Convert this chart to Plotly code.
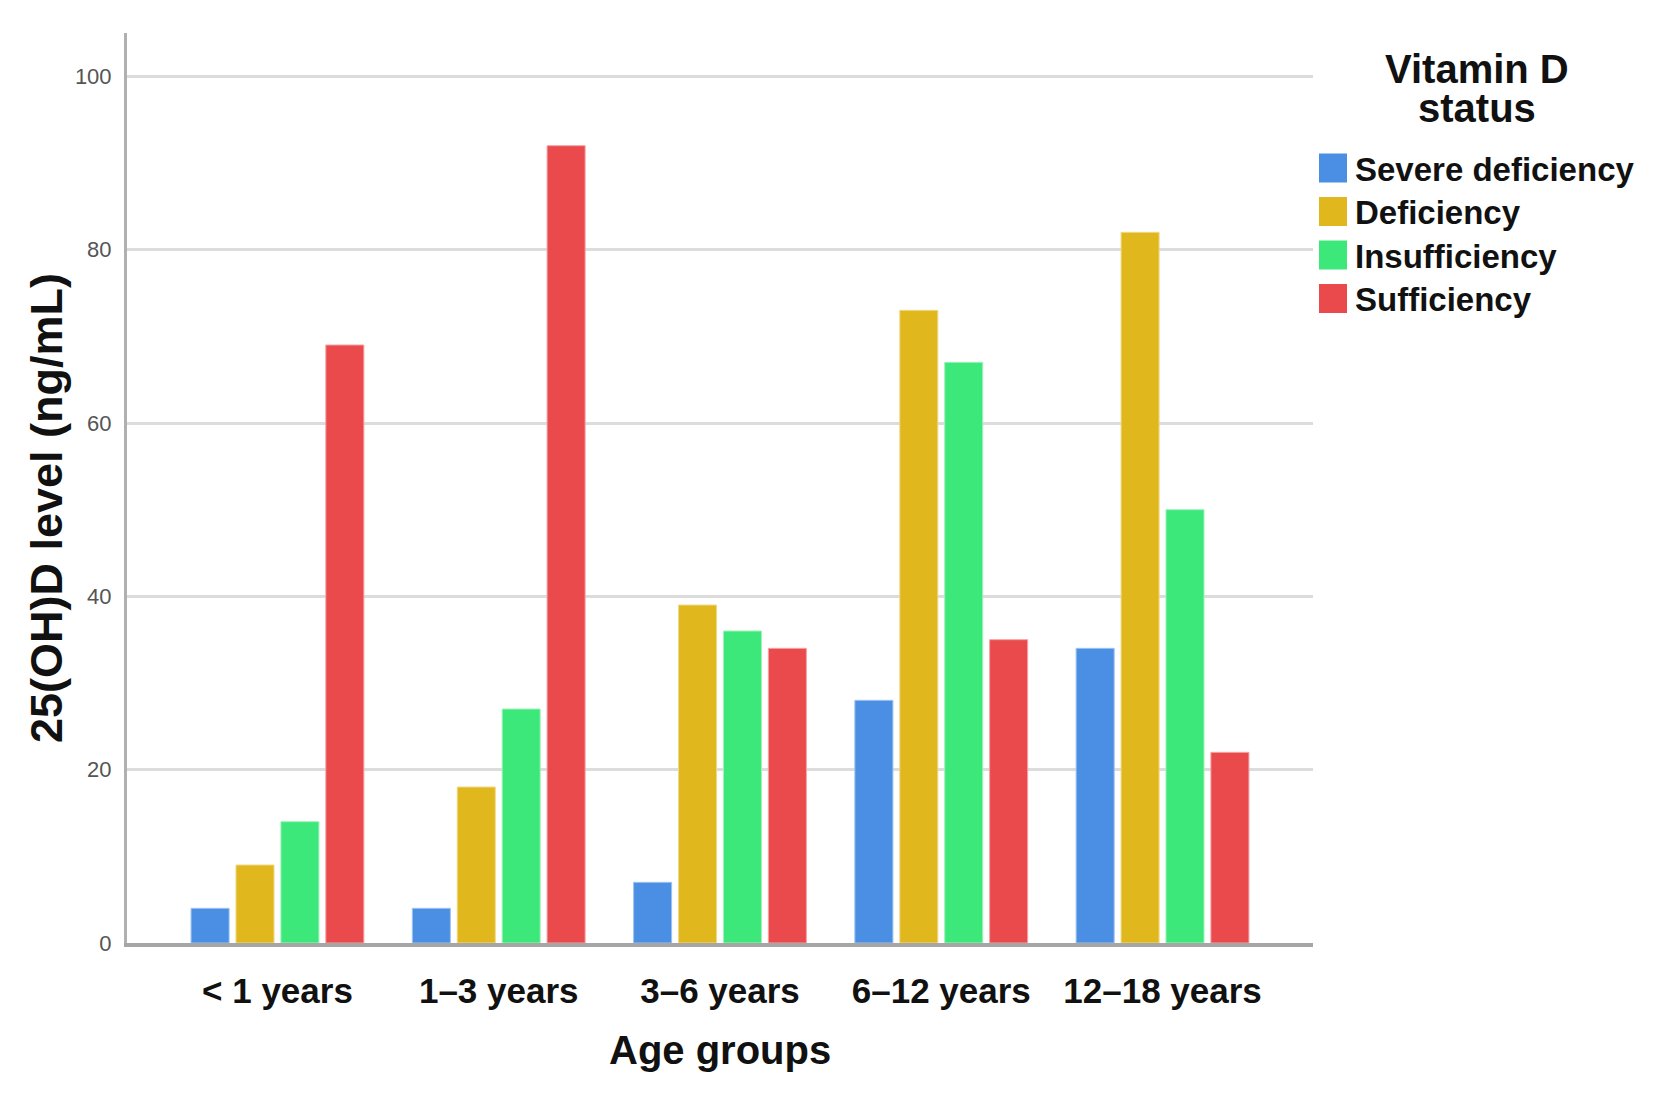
import plotly.graph_objects as go

# ---- data ----
age_groups = ["< 1 years", "1–3 years", "3–6 years", "6–12 years", "12–18 years"]
status_names = ["Severe deficiency", "Deficiency", "Insufficiency", "Sufficiency"]
severe_deficiency = [4, 4, 7, 28, 34]
deficiency = [9, 18, 39, 73, 82]
insufficiency = [14, 27, 36, 67, 50]
sufficiency = [69, 92, 34, 35, 22]
y_ticks = [0, 20, 40, 60, 80, 100]

series = [severe_deficiency, deficiency, insufficiency, sufficiency]
colors = ["#4a8fe3", "#e0b81e", "#3de87b", "#eb4a4d"]
edge_colors = ["#9cc3f0", "#efd987", "#9ef3bb", "#f5a3a4"]

# page is 1656x1093 with the browser's 8px body margin around the figure
OFF = 8
W, H = 1656 - 2 * OFF, 1093 - 2 * OFF
# plot-area edges in page pixels
PL, PR, PT, PB = 127, 1313, 33, 943
L, R, T, B = PL - OFF, PR - OFF, PT - OFF, PB - OFF


def px_x(px):
    return (px - PL) / (PR - PL)


def px_y(py):
    return (PB - py) / (PB - PT)


fig = go.Figure()
for name, vals, c, ec in zip(status_names, series, colors, edge_colors):
    fig.add_trace(go.Bar(
        x=age_groups, y=vals, name=name,
        marker=dict(color=c, line=dict(color=ec, width=1)),
        showlegend=False,
    ))

annotations = []
shapes = []

# y-axis title
annotations.append(dict(
    text="<b>25(OH)D level (ng/mL)</b>", textangle=-90,
    xref="paper", yref="paper", x=px_x(47), y=px_y(508),
    xanchor="center", yanchor="middle", showarrow=False,
    font=dict(family="Liberation Sans, Arial, sans-serif", size=45, color="#111111"),
))

# x-axis title
annotations.append(dict(
    text="<b>Age groups</b>",
    xref="paper", yref="paper", x=0.5, y=px_y(1050),
    xanchor="center", yanchor="middle", showarrow=False,
    font=dict(family="Liberation Sans, Arial, sans-serif", size=40, color="#111111"),
))

# legend title
for line, cy in zip(["Vitamin D", "status"], [69, 108]):
    annotations.append(dict(
        text="<b>%s</b>" % line, xref="paper", yref="paper",
        x=px_x(1477), y=px_y(cy), xanchor="center", yanchor="middle",
        showarrow=False,
        font=dict(family="Liberation Sans, Arial, sans-serif", size=40, color="#111111"),
    ))

# custom legend
for i, (name, c) in enumerate(zip(status_names, colors)):
    cy = 168 + 43.5 * i
    shapes.append(dict(
        type="rect", xref="paper", yref="paper",
        x0=px_x(1319), x1=px_x(1347), y0=px_y(cy - 14.5), y1=px_y(cy + 14.5),
        fillcolor=c, line=dict(width=0),
    ))
    annotations.append(dict(
        text="<b>%s</b>" % name, xref="paper", yref="paper",
        x=px_x(1353), y=px_y(cy + 1), xanchor="left", yanchor="middle",
        showarrow=False,
        font=dict(family="Liberation Sans, Arial, sans-serif", size=33, color="#111111"),
    ))

fig.update_layout(
    width=W, height=H,
    margin=dict(l=L, r=W - R, t=T, b=H - B, pad=0, autoexpand=False),
    paper_bgcolor="white", plot_bgcolor="white",
    barmode="group", bargap=0.188, bargroupgap=0.153,
    annotations=annotations, shapes=shapes,
    showlegend=False,
    xaxis=dict(
        range=[-0.68, 4.68], automargin=False,
        showline=True, linecolor="#a6a6a6", linewidth=4,
        showgrid=False, layer="below traces",
        ticks="outside", ticklen=14, tickcolor="rgba(0,0,0,0)",
        tickangle=0,
        tickfont=dict(family="Liberation Sans, Arial, sans-serif",
                      size=35, color="#111111"),
        tickprefix="<b>", ticksuffix="</b>",
    ),
    yaxis=dict(
        range=[0, 105], automargin=False,
        tickvals=y_ticks,
        showline=True, linecolor="#b0b0b0", linewidth=3,
        showgrid=True, gridcolor="#dcdcdc", gridwidth=3,
        zeroline=False, layer="below traces",
        ticks="outside", ticklen=8, tickcolor="rgba(0,0,0,0)",
        tickfont=dict(family="Liberation Sans, Arial, sans-serif", size=22, color="#555555"),
    ),
)

fig.write_html("out.html")
